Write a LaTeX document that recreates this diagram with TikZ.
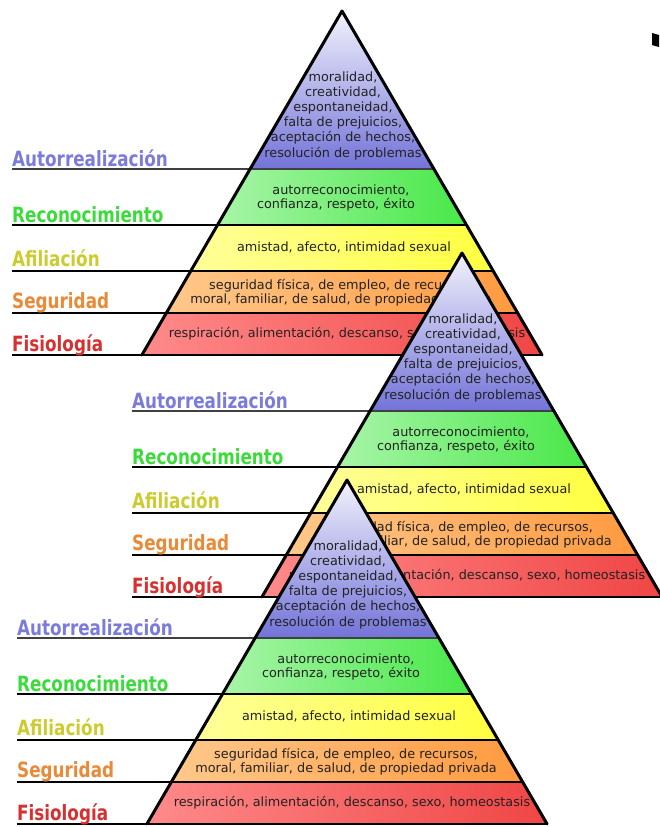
\documentclass[tikz,border=0pt]{standalone}
\usepackage{fontspec}
\setmainfont{DejaVu Sans}
\definecolor{bluetop}{HTML}{F2F2FC}
\definecolor{bluebot}{HTML}{7373D9}
\definecolor{greenL}{HTML}{A8F5A8}
\definecolor{greenR}{HTML}{48E848}
\definecolor{yellowL}{HTML}{FFFF99}
\definecolor{yellowR}{HTML}{FFFF40}
\definecolor{orangeL}{HTML}{FFC88A}
\definecolor{orangeR}{HTML}{FF9A40}
\definecolor{redL}{HTML}{FF8A8A}
\definecolor{redR}{HTML}{F04545}
\definecolor{labA}{HTML}{7B7BDB}
\definecolor{labR}{HTML}{3ADB3A}
\definecolor{labF}{HTML}{CCCC30}
\definecolor{labS}{HTML}{E88A38}
\definecolor{labP}{HTML}{D63030}
\definecolor{txt}{HTML}{222222}
\tikzset{
  bodytxt/.style={anchor=base, inner sep=0pt, text=txt, font=\fontsize{12.8}{15}\selectfont},
  labtxt/.style={anchor=base west, inner sep=0pt, font=\fontsize{21}{24}\selectfont\bfseries},
  lvlline/.style={line width=2.6pt, draw=black},
  edgeline/.style={line width=3pt, draw=black, line join=round, line cap=round},
}
\newcommand\maslowpyr[3]{%
\begin{scope}[shift={(#2,#3)}]
  \shade[top color=bluetop, bottom color=bluebot] (342,11) -- (434.2,169) -- (249.8,169) -- cycle;
  \shade[left color=greenL, right color=greenR] (249.8,169) -- (434.2,169) -- (466.7,225) -- (217.3,225) -- cycle;
  \shade[left color=yellowL, right color=yellowR] (217.3,225) -- (466.7,225) -- (493.4,271) -- (190.6,271) -- cycle;
  \shade[left color=orangeL, right color=orangeR] (190.6,271) -- (493.4,271) -- (517.7,313) -- (166.3,313) -- cycle;
  \shade[left color=redL, right color=redR] (166.3,313) -- (517.7,313) -- (542.1,355) -- (141.9,355) -- cycle;
  \node[bodytxt] (#1b1) at (343,81) {moralidad,};
  \node[bodytxt] (#1b2) at (343,96.2) {creatividad,};
  \node[bodytxt] (#1b3) at (343,111.4) {espontaneidad,};
  \node[bodytxt] (#1b4) at (343,126.6) {falta de prejuicios,};
  \node[bodytxt] (#1b5) at (343,141.8) {aceptación de hechos,};
  \node[bodytxt] (#1b6) at (343,157) {resolución de problemas};
  \node[bodytxt] (#1g1) at (341,194) {autorreconocimiento,};
  \node[bodytxt] (#1g2) at (336,208) {confianza, respeto, éxito};
  \node[bodytxt] (#1y1) at (344,251) {amistad, afecto, intimidad sexual};
  \node[bodytxt] (#1o1) at (341,289) {seguridad física, de empleo, de recursos,};
  \node[bodytxt] (#1o2) at (341,303) {moral, familiar, de salud, de propiedad privada};
  \node[bodytxt] (#1r1) at (347,337.5) {respiración, alimentación, descanso, sexo, homeostasis};
  \draw[lvlline, draw=black!75] (12,169) -- (434.2,169);
  \draw[lvlline] (12,225) -- (466.7,225);
  \draw[lvlline] (12,271) -- (493.4,271);
  \draw[lvlline] (12,313) -- (517.7,313);
  \draw[lvlline] (12,355) -- (542.1,355);
  \draw[edgeline] (141.9,355) -- (342,11) -- (542.1,355);
  \node[labtxt, text=labA] (#1l1) at (12,166) {\scalebox{0.8}[1]{Autorrealización}};
  \node[labtxt, text=labR] (#1l2) at (12,222.5) {\scalebox{0.8}[1]{Reconocimiento}};
  \node[labtxt, text=labF] (#1l3) at (12,266.5) {\scalebox{0.8}[1]{Afiliación}};
  \node[labtxt, text=labS] (#1l4) at (12,308) {\scalebox{0.8}[1]{Seguridad}};
  \node[labtxt, text=labP] (#1l5) at (12,351.5) {\scalebox{0.8}[1]{Fisiología}};
\end{scope}}
\begin{document}
\begin{tikzpicture}[x=1pt, y=-1pt]
  \useasboundingbox (0,0) rectangle (659,827);
  \fill[white] (0,0) rectangle (659,827);
  \maslowpyr{pa}{0}{0}
  \maslowpyr{pb}{120}{242}
  \maslowpyr{pc}{5}{469}
  \fill[black] (652,33) -- (659,35) -- (659,47) -- (655,46) -- (652,45) -- cycle;
\end{tikzpicture}
\end{document}
